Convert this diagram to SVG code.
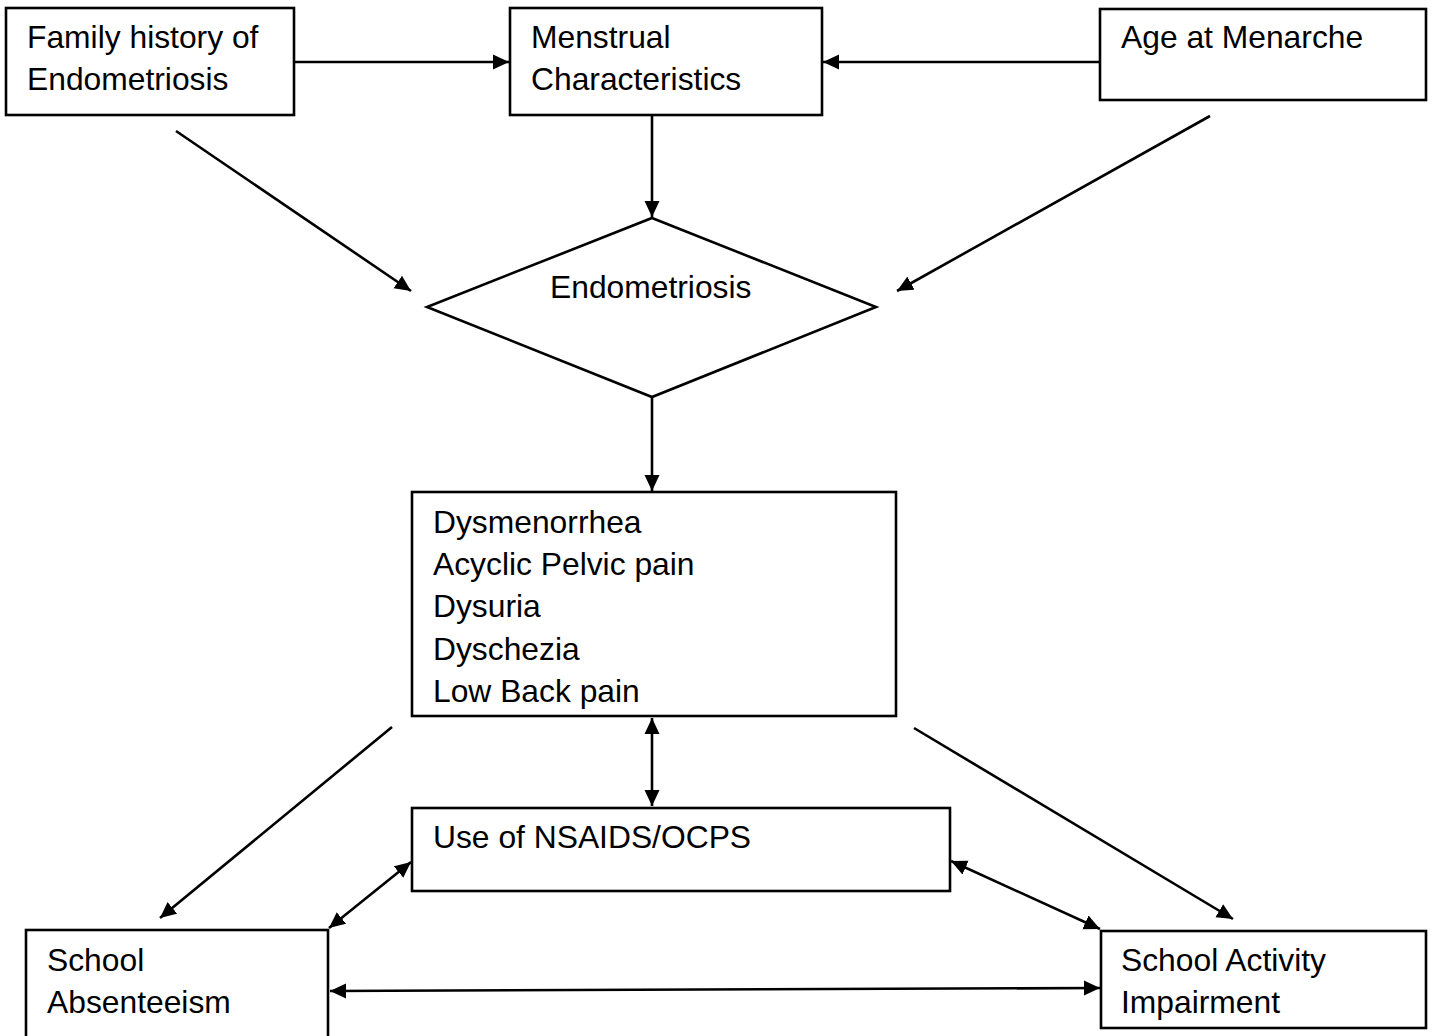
<svg xmlns="http://www.w3.org/2000/svg" width="1432" height="1036" viewBox="0 0 1432 1036">
<defs>
<style>
.box{fill:#fff;stroke:#000;stroke-width:2.6}
.ln{fill:none;stroke:#000;stroke-width:2.6}
.t{font-family:"Liberation Sans",Arial,sans-serif;font-size:31.8px;fill:#000}
</style>
<marker id="ah" markerUnits="userSpaceOnUse" markerWidth="17" markerHeight="16" refX="16" refY="7.5" orient="auto-start-reverse" viewBox="0 0 17 15">
<path d="M0,0 L16,7.5 L0,15 z" fill="#000"/>
</marker>
</defs>
<rect width="1432" height="1036" fill="#fff"/>
<g id="connectors">
<line class="ln" x1="294" y1="62" x2="509" y2="62" marker-end="url(#ah)"/>
<line class="ln" x1="1100" y1="62" x2="823" y2="62" marker-end="url(#ah)"/>
<line class="ln" x1="652" y1="115" x2="652" y2="217" marker-end="url(#ah)"/>
<line class="ln" x1="176" y1="131" x2="411" y2="291" marker-end="url(#ah)"/>
<line class="ln" x1="1210" y1="116" x2="897" y2="291" marker-end="url(#ah)"/>
<line class="ln" x1="652" y1="397" x2="652" y2="491" marker-end="url(#ah)"/>
<line class="ln" x1="652" y1="718" x2="652" y2="806" marker-start="url(#ah)" marker-end="url(#ah)"/>
<line class="ln" x1="392" y1="727" x2="160" y2="918" marker-end="url(#ah)"/>
<line class="ln" x1="914" y1="728" x2="1233" y2="919" marker-end="url(#ah)"/>
<line class="ln" x1="411" y1="862" x2="329" y2="928" marker-start="url(#ah)" marker-end="url(#ah)"/>
<line class="ln" x1="951" y1="861" x2="1100" y2="929" marker-start="url(#ah)" marker-end="url(#ah)"/>
<line class="ln" x1="330" y1="991" x2="1100" y2="988" marker-start="url(#ah)" marker-end="url(#ah)"/>
</g>
<g id="family-history">
<rect class="box" x="6" y="8" width="288" height="107"/>
<text class="t" x="27" y="48">Family history of</text>
<text class="t" x="27" y="90">Endometriosis</text>
</g>
<g id="menstrual">
<rect class="box" x="510" y="8" width="312" height="107"/>
<text class="t" x="531" y="48">Menstrual</text>
<text class="t" x="531" y="90">Characteristics</text>
</g>
<g id="age-menarche">
<rect class="box" x="1100" y="9" width="326" height="91"/>
<text class="t" x="1121" y="48">Age at Menarche</text>
</g>
<g id="endometriosis">
<polygon class="box" points="652,218 876,307 652,397 427,307"/>
<text class="t" x="550" y="298">Endometriosis</text>
</g>
<g id="symptoms">
<rect class="box" x="412" y="492" width="484" height="224"/>
<text class="t" x="433" y="533">Dysmenorrhea</text>
<text class="t" x="433" y="575">Acyclic Pelvic pain</text>
<text class="t" x="433" y="617">Dysuria</text>
<text class="t" x="433" y="660">Dyschezia</text>
<text class="t" x="433" y="702">Low Back pain</text>
</g>
<g id="nsaids">
<rect class="box" x="412" y="808" width="538" height="83"/>
<text class="t" x="433" y="848">Use of NSAIDS/OCPS</text>
</g>
<g id="absenteeism">
<rect class="box" x="26" y="930" width="302" height="120"/>
<text class="t" x="47" y="971">School</text>
<text class="t" x="47" y="1013">Absenteeism</text>
</g>
<g id="activity-impairment">
<rect class="box" x="1101" y="931" width="325" height="97"/>
<text class="t" x="1121" y="971">School Activity</text>
<text class="t" x="1121" y="1013">Impairment</text>
</g>
</svg>
